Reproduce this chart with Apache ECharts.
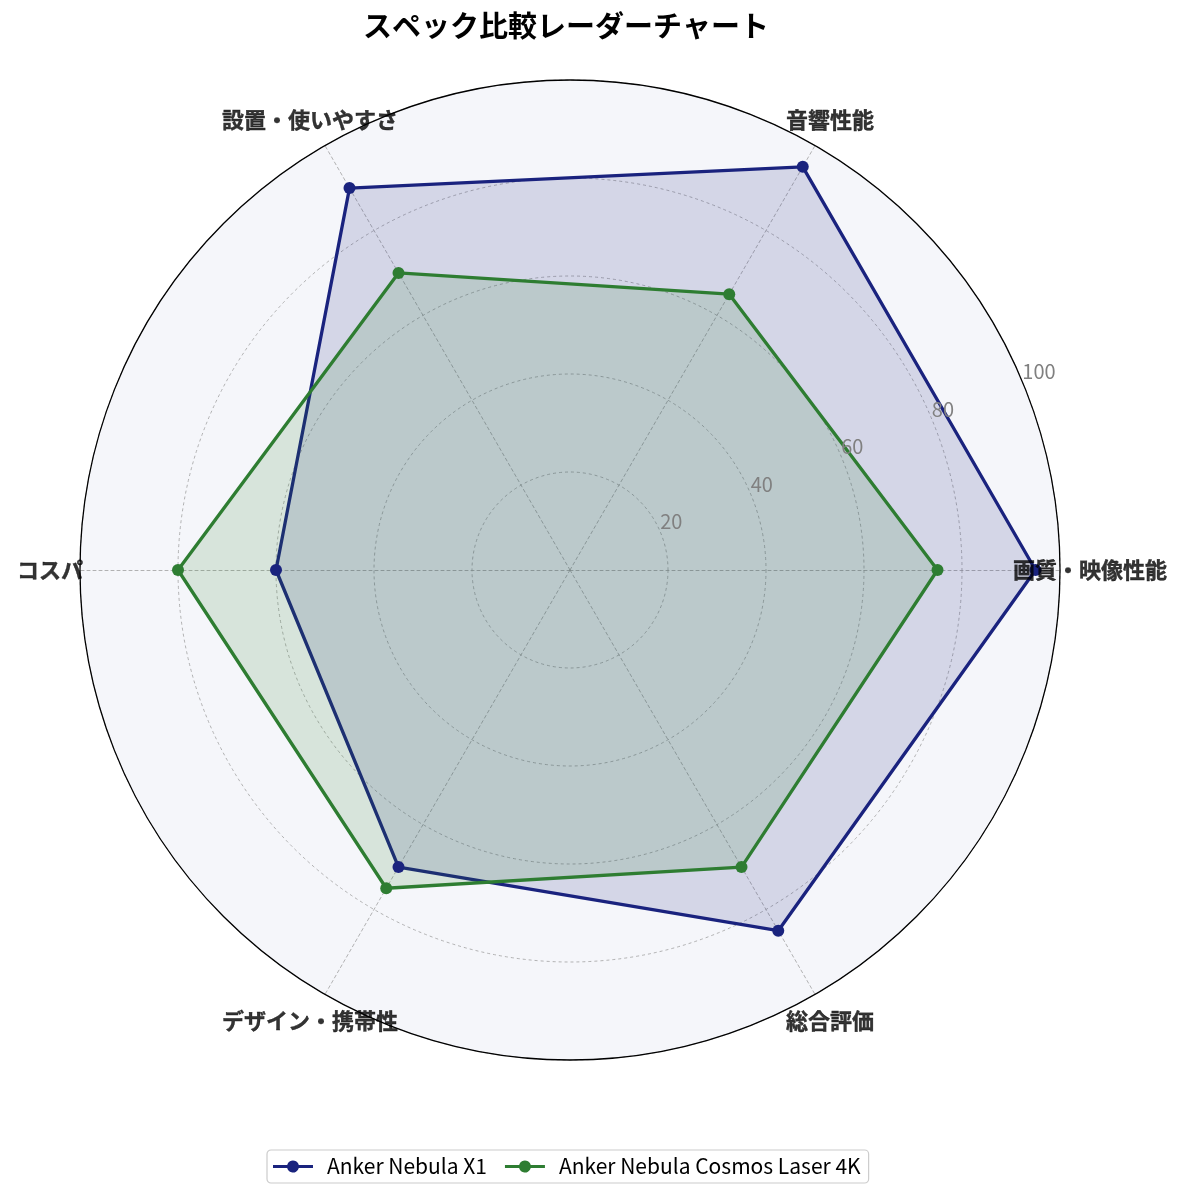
<!DOCTYPE html>
<html><head><meta charset="utf-8">
<script src="https://cdn.jsdelivr.net/npm/echarts@6/dist/echarts.min.js"></script>
<style>html,body{margin:0;padding:0;background:#fff}#c{width:1185px;height:1198px}</style>
</head><body><div id="c"></div>
<script>
const categories = ['画質・映像性能', '音響性能', '設置・使いやすさ', 'コスパ', 'デザイン・携帯性', '総合評価'];
const seriesNames = ['Anker Nebula X1', 'Anker Nebula Cosmos Laser 4K'];
const x1Values = [95, 95, 90, 60, 70, 85];
const cosmosValues = [75, 65, 70, 80, 75, 70];
const labelRadiusValues = [100, 100, 100, 100, 100, 100];
const colors = ['#1a237e', '#2e7d32'];
const FONT = '"Noto Sans CJK JP", "Noto Sans", sans-serif';

const chart = echarts.init(document.getElementById('c'));
const icon = 'path://M0,4.5 L14.19,4.5 A6,6 0 0 1 25.81,4.5 L40,4.5 L40,7.5 L25.81,7.5 A6,6 0 0 1 14.19,7.5 L0,7.5 Z';
chart.setOption({
  backgroundColor: '#ffffff',
  animation: false,
  title: {
    text: 'スペック比較レーダーチャート',
    left: 561, top: 6, textAlign: 'center',
    textStyle: { fontFamily: FONT, fontSize: 29, fontWeight: 'bold', color: '#000' }
  },
  legend: {
    bottom: 15, left: 267,
    data: seriesNames,
    icon: icon, itemWidth: 40, itemHeight: 12, itemGap: 18,
    borderColor: '#cccccc', borderWidth: 1.2, borderRadius: 4,
    padding: [6, 8, 6, 6],
    textStyle: { fontFamily: FONT, fontSize: 21, color: '#000', padding: [0, 0, 0, 9] }
  },
  radar: {
    center: [570, 570], radius: 490, startAngle: 0, shape: 'circle', splitNumber: 5,
    indicator: categories.map(n => ({ name: n, min: 0, max: 100 })),
    axisName: { show: false },
    splitLine: { lineStyle: { color: '#a0a0a0', type: [3, 3], width: 0.8 } },
    splitArea: { areaStyle: { color: ['#f5f6fa'] } },
    axisLine: { lineStyle: { color: '#a0a0a0', type: [3, 3], width: 0.8 } },
    axisTick: { show: false },
    axisLabel: { show: false }
  },
  polar: [
    { center: [570, 570], radius: 490 },
    { center: [570, 570], radius: 520 }
  ],
  angleAxis: [
    { polarIndex: 0, type: 'value', min: 0, max: 360, startAngle: 22.5, z: 5,
      axisLine: { show: true, lineStyle: { color: '#000', width: 1.3 } },
      axisTick: { show: false }, axisLabel: { show: false }, splitLine: { show: false } },
    { polarIndex: 1, type: 'category', data: categories, startAngle: 0, clockwise: false, boundaryGap: false,
      axisLine: { show: false }, axisTick: { show: false }, axisLabel: { show: false }, splitLine: { show: false } }
  ],
  radiusAxis: [
    { polarIndex: 0, min: 0, max: 100, interval: 20, z: 5,
      axisLine: { show: false }, axisTick: { show: false }, splitLine: { show: false },
      axisLabel: { show: true, margin: 1, align: 'left', verticalAlign: 'bottom', color: '#808080',
        fontFamily: FONT, fontSize: 20, formatter: v => (v === 0 ? '' : String(v)) } },
    { polarIndex: 1, min: 0, max: 100,
      axisLine: { show: false }, axisTick: { show: false }, splitLine: { show: false }, axisLabel: { show: false } }
  ],
  series: [
    {
      type: 'radar', name: seriesNames[0], z: 3,
      symbol: 'circle', symbolSize: 12,
      lineStyle: { color: colors[0], width: 3.3 },
      itemStyle: { color: colors[0] },
      areaStyle: { color: colors[0], opacity: 0.15 },
      data: [{ value: x1Values, name: seriesNames[0] }]
    },
    {
      type: 'radar', name: seriesNames[1], z: 3,
      symbol: 'circle', symbolSize: 12,
      lineStyle: { color: colors[1], width: 3.3 },
      itemStyle: { color: colors[1] },
      areaStyle: { color: colors[1], opacity: 0.15 },
      data: [{ value: cosmosValues, name: seriesNames[1] }]
    },
    {
      type: 'scatter', coordinateSystem: 'polar', polarIndex: 1, z: 10,
      symbolSize: 1, itemStyle: { color: 'rgba(0,0,0,0)' }, silent: true,
      data: labelRadiusValues.map((r, i) => [r, categories[i]]),
      label: { show: true, position: 'inside', formatter: p => categories[p.dataIndex],
        fontFamily: FONT, fontSize: 22, fontWeight: 'bold', color: '#000',
        textBorderColor: '#000', textBorderWidth: 0.4 }
    }
  ]
});
</script></body></html>
